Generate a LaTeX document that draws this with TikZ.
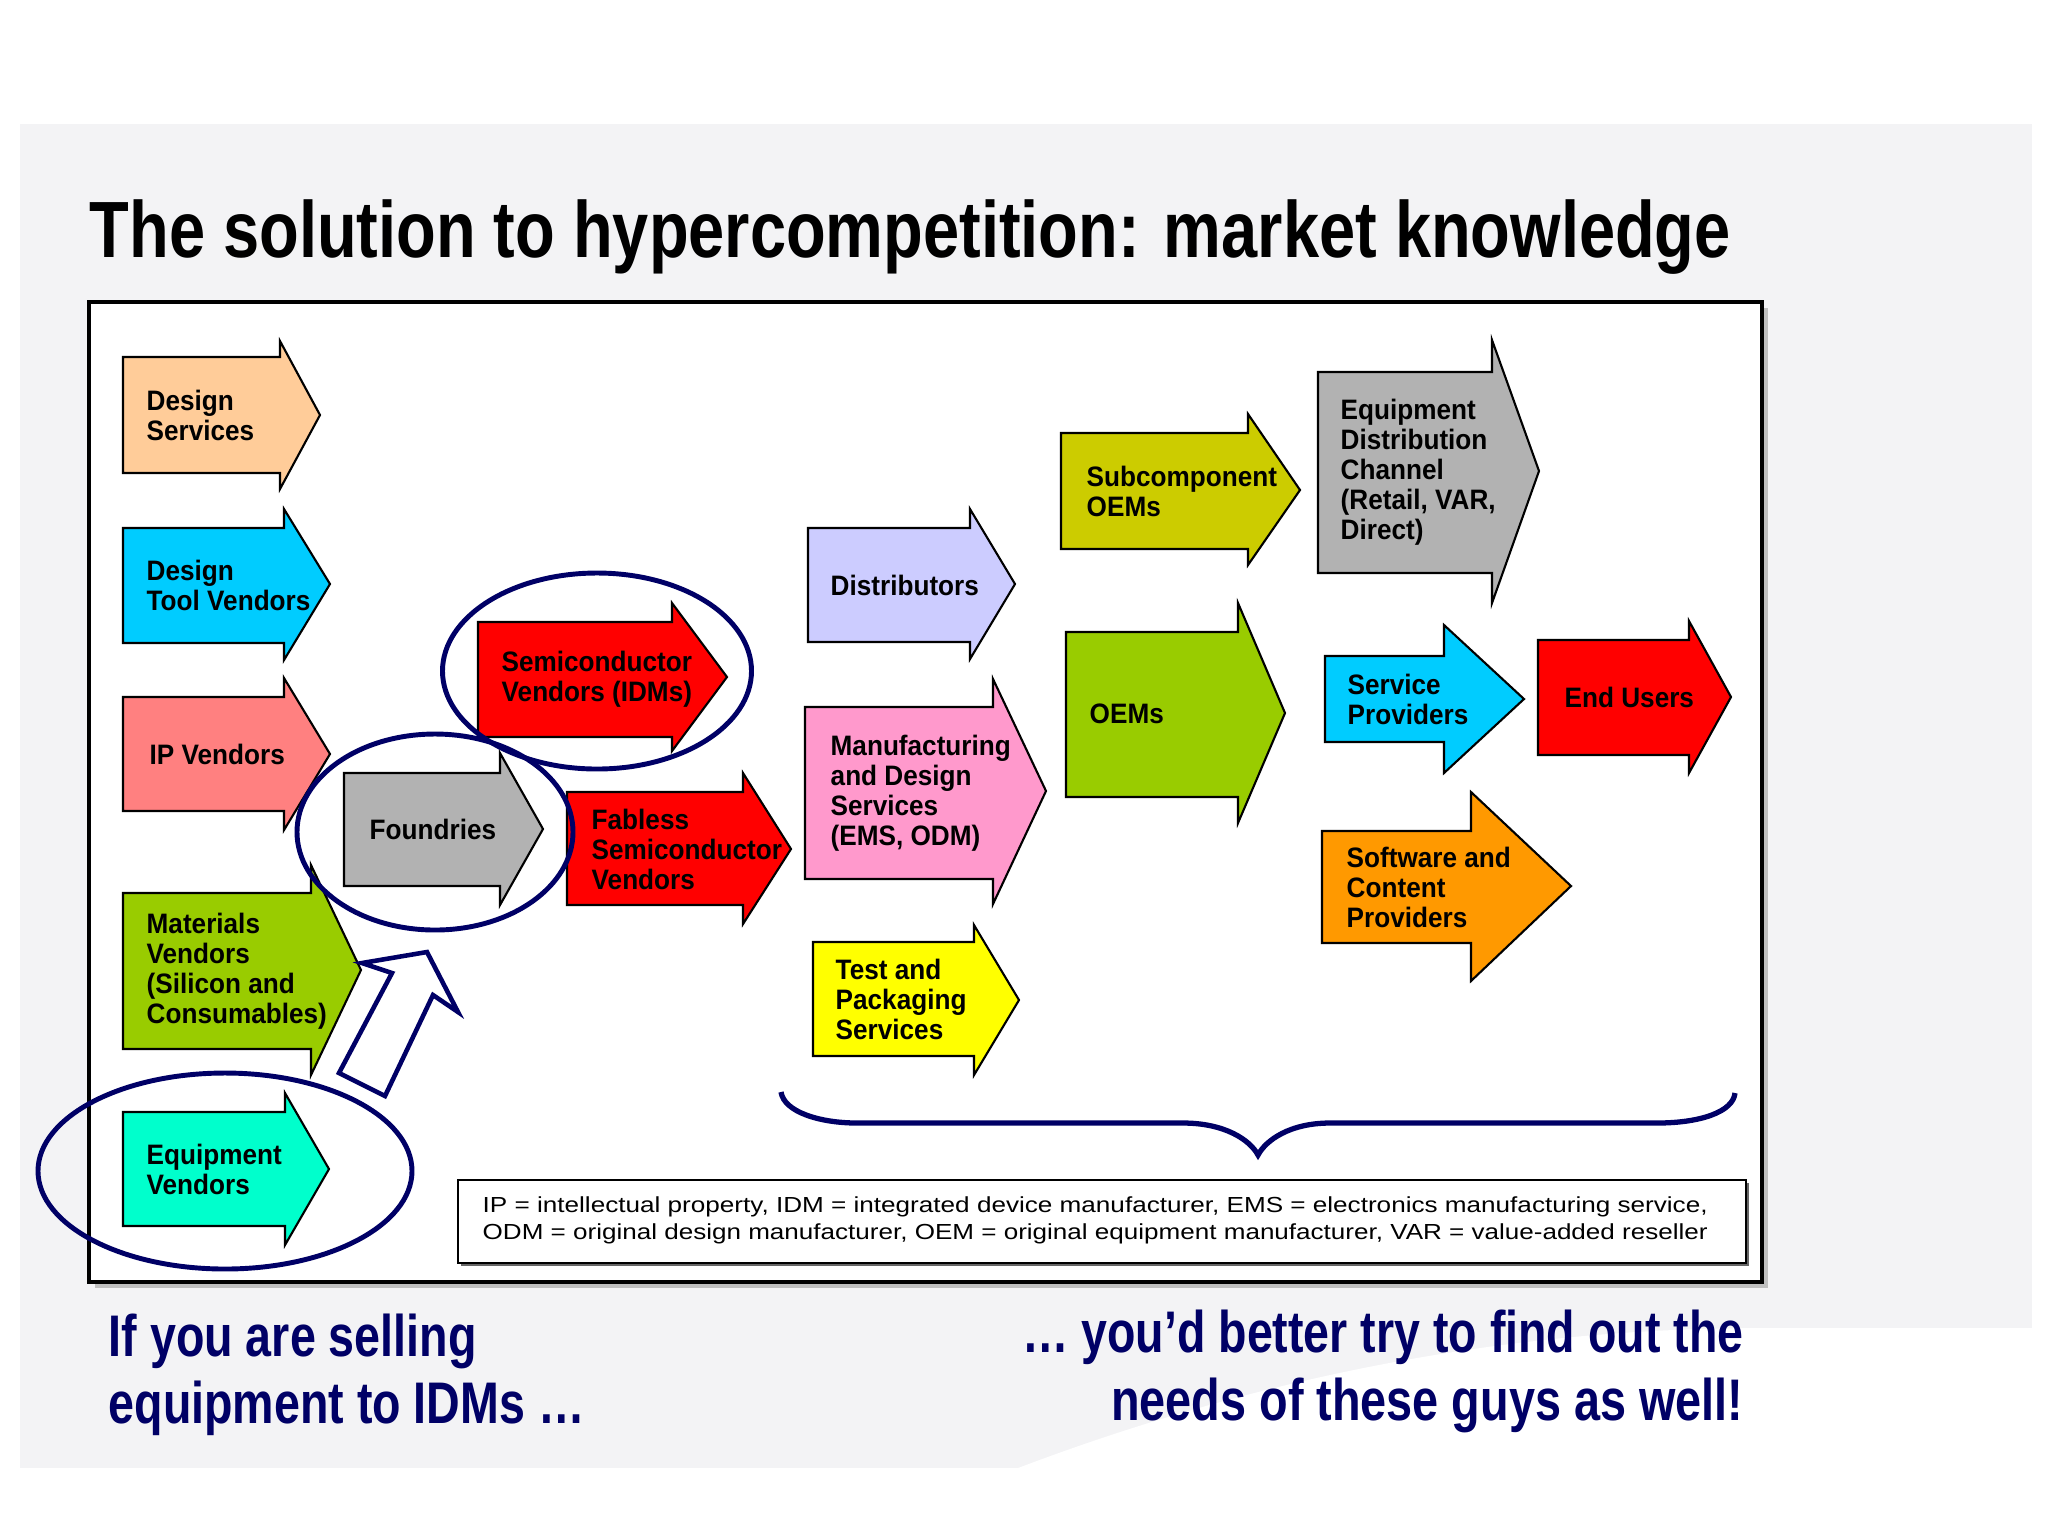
\documentclass[tikz,border=0pt]{standalone}
\usepackage{fontspec}
\setmainfont{Liberation Sans}
\newfontfamily\arrfont[FakeStretch=0.93]{Liberation Sans}
\usepackage{graphicx}
\definecolor{bggray}{HTML}{F3F3F5}
\definecolor{navy}{HTML}{000066}
\definecolor{cDS}{HTML}{FFCC99}
\definecolor{cCyan}{HTML}{00CCFF}
\definecolor{cIP}{HTML}{FF8080}
\definecolor{cLime}{HTML}{99CC00}
\definecolor{cEq}{HTML}{00FFCC}
\definecolor{cRed}{HTML}{FF0000}
\definecolor{cGray}{HTML}{B2B2B2}
\definecolor{cLav}{HTML}{CCCCFF}
\definecolor{cPink}{HTML}{FF99CC}
\definecolor{cYel}{HTML}{FFFF00}
\definecolor{cOlive}{HTML}{CCCC00}
\definecolor{cOrange}{HTML}{FF9900}
\newcommand\harrow[9]{\draw[arrowbox, fill=#1] (#2,#3) -- (#5,#3) -- (#5,#6) -- (#8,#9) -- (#5,#7) -- (#5,#4) -- (#2,#4) -- cycle;}
\begin{document}
\begin{tikzpicture}[x=0.1mm,y=-0.1mm,
  arrowbox/.style={draw=black, line width=0.6pt, line join=miter},
  lbl/.style={anchor=west, inner sep=0pt, align=left, font=\arrfont\bfseries\fontsize{8}{8.54}\selectfont},
  ring/.style={draw=navy, line width=1.4pt},
  quote/.style={inner sep=0pt, text=navy, font=\bfseries\fontsize{16.7}{20}\selectfont},
  legendtxt/.style={anchor=base west, inner sep=0pt, font=\fontsize{6.2}{7}\selectfont}]
\useasboundingbox (0,0) rectangle (2048,1536);
\fill[white] (0,0) rectangle (2048,1536);
% slide background
\fill[bggray] (20,124) rectangle (2032,1468);
\fill[white] (1018,1468) .. controls (1250,1380) and (1500,1328) .. (1762,1328) -- (2032,1328) -- (2032,1468) -- cycle;
% title
\node[anchor=base west, inner sep=0pt, font=\bfseries\fontsize{22.7}{27}\selectfont] (title) at (89,257)
  {\resizebox{164.1mm}{\height}{The solution to hypercompetition: market knowledge}};
% frame
\fill[black!25] (95,308) rectangle (1768,1288);
\draw[line width=0.9pt, fill=white] (89,302) rectangle (1762,1282);
% arrows
\harrow{cDS}{123}{357}{473}{280}{341}{489}{320}{415}
\harrow{cCyan}{123}{528}{643}{284}{509}{660}{330}{584}
\harrow{cIP}{123}{697}{811}{284}{678}{830}{330}{754}
\harrow{cLime}{123}{893}{1049}{311}{865}{1075}{361}{970}
\harrow{cEq}{123}{1112}{1226}{285}{1093}{1245}{329}{1169}
\harrow{cRed}{478}{622}{737}{672}{603}{751}{727}{677}
\harrow{cGray}{344}{773}{886}{500}{753}{905}{543}{829}
\harrow{cRed}{567}{792}{905}{743}{773}{924}{791}{849}
\harrow{cLav}{808}{528}{642}{970}{509}{659}{1015}{584}
\harrow{cPink}{805}{707}{879}{993}{679}{904}{1046}{791}
\harrow{cYel}{813}{942}{1056}{974}{925}{1075}{1019}{1000}
\harrow{cOlive}{1061}{433}{549}{1248}{414}{565}{1300}{490}
\harrow{cLime}{1066}{632}{797}{1238}{603}{823}{1285}{713}
\harrow{cGray}{1318}{372}{573}{1492}{340}{603}{1539}{471}
\harrow{cCyan}{1325}{656}{742}{1444}{625}{773}{1524}{699}
\harrow{cRed}{1538}{640}{755}{1689}{621}{773}{1731}{697}
\harrow{cOrange}{1322}{831}{943}{1471}{792}{981}{1571}{886}
% labels
\node[lbl] (ds) at (146,415) {Design\\Services};
\node[lbl] (dtv) at (146,585) {Design\\Tool Vendors};
\node[lbl] (ipv) at (149,754) {IP Vendors};
\node[lbl] (mat) at (146,971) {Materials\\Vendors\\(Silicon and\\Consumables)};
\node[lbl] (eqv) at (146,1169) {Equipment\\Vendors};
\node[lbl] (semi) at (501,679) {Semiconductor\\Vendors (IDMs)};
\node[lbl] (fnd) at (369,829) {Foundries};
\node[lbl] (fab) at (591,849) {Fabless\\Semiconductor\\Vendors};
\node[lbl] (dist) at (830,585) {Distributors};
\node[lbl] (mfg) at (830,793) {Manufacturing\\and Design\\Services\\(EMS, ODM)};
\node[lbl] (tst) at (835,999) {Test and\\Packaging\\Services};
\node[lbl] (sub) at (1086,491) {Subcomponent\\OEMs};
\node[lbl] (oem) at (1089,714) {OEMs};
\node[lbl] (edc) at (1340,472) {Equipment\\Distribution\\Channel\\(Retail, VAR,\\Direct)};
\node[lbl] (sp) at (1347,699) {Service\\Providers};
\node[lbl] (eu) at (1564,697) {End Users};
\node[lbl] (sw) at (1346,887) {Software and\\Content\\Providers};
% rings
\draw[ring] (597,671) ellipse [x radius=154.5, y radius=98];
\draw[ring] (435,832) ellipse [x radius=138, y radius=98];
\draw[ring] (225,1171) ellipse [x radius=187, y radius=98];
% hollow block arrow
\draw[draw=navy, line width=1.3pt, fill=white, line join=miter]
  (339,1073) -- (385,1096) -- (433,995) -- (458,1012) -- (427,952) -- (362,963) -- (392,973) -- cycle;
% brace
\draw[navy, line width=1.5pt]
  (781,1092) .. controls (784,1112) and (820,1123) .. (857,1123) -- (1183,1123)
  .. controls (1225,1123) and (1250,1140) .. (1258,1155)
  .. controls (1266,1140) and (1290,1123) .. (1330,1123) -- (1657,1123)
  .. controls (1700,1123) and (1733,1112) .. (1735,1093);
% legend
\fill[black!60] (461,1183) rectangle (1749,1266);
\draw[line width=0.8pt, fill=white] (458,1180) rectangle (1746,1263);
\node[legendtxt] (leg1) at (482,1212) {\resizebox{122.5mm}{\height}{IP = intellectual property, IDM = integrated device manufacturer, EMS = electronics manufacturing service,}};
\node[legendtxt] (leg2) at (482,1239) {\resizebox{122.5mm}{\height}{ODM = original design manufacturer, OEM = original equipment manufacturer, VAR = value-added reseller}};
% bottom quotes
\node[quote, anchor=base west] (q1a) at (108,1356) {\resizebox{36.8mm}{\height}{If you are selling}};
\node[quote, anchor=base west] (q1b) at (108,1423) {\resizebox{47.6mm}{\height}{equipment to IDMs …}};
\node[quote, anchor=base east] (q2a) at (1744,1352) {\resizebox{72.1mm}{\height}{… you’d better try to find out the}};
\node[quote, anchor=base east] (q2b) at (1744,1420) {\resizebox{63.2mm}{\height}{needs of these guys as well!}};
\end{tikzpicture}
\end{document}
